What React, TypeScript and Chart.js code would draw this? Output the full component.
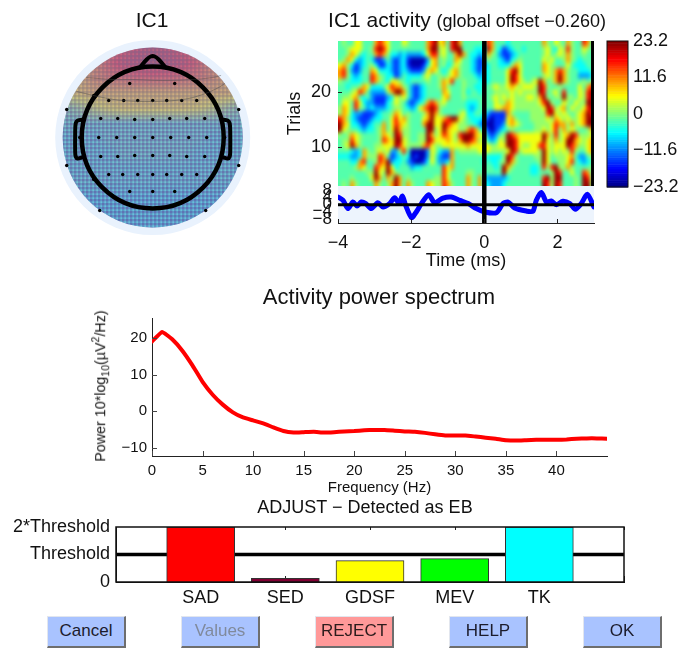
import React, { useEffect, useRef } from "react";
import { Chart, registerables } from "chart.js";
Chart.register(...registerables);

const FONT = "'Liberation Sans', Arial, sans-serif";
const PAGE_W = 683;
const PAGE_H = 648;

// ---- Heat map: trials (top row = trial 29) x time, one letter per cell
const heatLevels: Record<string, number> = { a: -21, b: -15, c: -10, d: -5.5, e: -2, f: 1, g: 5, h: 10, i: 16, j: 22 };
const heatRows = [
  "efeeggee ehihgeee gfeeeehi jgheijhe eeeeeihe eedeeeee eeehfegf ehfeeihe",
  "eefgggee fijigeee eeeeeehj jfgeijje eedddjhe dbcdeede eeefgedg fifeegfe",
  "eefhgede ehihfddc dccccdgi ifgeehjh eddcdhfe cbbcdeee eeefgefg fhfeefee",
  "efhgdcde dbbcecbc dbaaaacg hefeehge edcbcfee dcbdefee eeegfgee fhfedeee",
  "ghfdbcde fdbbdcbc dbaaabdg hefdegfe edcbcdee dddfhgee eeehgfee egedddee",
  "hifcbcee hgdddcbc dcbbbcgh gedeghfe edcbddee eegijgee eeehgfhi hfeeddde",
  "hifdcdee ihfeddbc eddddfge efefghfe eedcddee eegjigee eeefgfhj hfeecccd",
  "feedddee ihfedggf edeeeefe efhgieef eeedddee eegjigfe fgjhefhj hfeeefef",
  "eedeefhg dddegihh fecbcdee efhfeeef eeddeefg ffghgfgg gfjifeef eeeegehi",
  "eeefgihe ccccfhjj hecbcdee eehgeeef deedeeef fffgfgff ffjiefge ieeegfij",
  "effghede cbbbcdgf gecbcdee eegheeef eeeeeefg fgfgfffg gfhjfeff jffegfij",
  "eggeigdc cbbbdegf ecbcdehi hfgeeeee dddeeeeg ffhgffff ffgijfee gfegffjj",
  "fhgeifec dcccdeff edcdghij ifeeeeee dcdeeeeg ghhgffff fffgjifg hegffgij",
  "fhgdccbb bcdeefhg efeeefhj hfeeeefg ddeedcbb bbhfeeee ffffijgf gfefghji",
  "ihfdcbbb cddeegig hfeeeghj gghijjgf edddcbab bbghfeee ffffgfhg fgffghjj",
  "jhgddcbc deehegih gfeeehjj ggjihgff eedcbaab bcghgfee effffgih hfhfghjj",
  "jgfeedcd defhegjh ffeeeejj fgjhggff hihedbab cdefeeee effgfgif hfgfeefh",
  "fefhgfee eefhgfji ffeeffjh fgihgfij jjhgfcbc efjihggg gggjhfif ghjifffg",
  "effigfee eefihgjj gfeeffji ggghgfhj jihfgdcd gfjjiggg gggjgfhf gjjhgfgh",
  "efgjhfee effgggji gffffhig ffgggggg hgggggff ggjjigff ggiigfgg gjihffgh",
  "eeedcdhf efgfgccf ieaaaacg fdccheff fffgggff ffgjifgg ggfjgfgf gfifeegh",
  "dddccdhf ffihebcd edabaacg ecbbheee eeeeeddd dfjifeee effjgeff fgheccef",
  "eeeddhie efihjcdd ecbaabdg eccdheee eeeededd efjhfeee eefjgeef fgiedcde",
  "eeeefhge eihgjgde eecddeee eeigheee eeeeeeed ejhfeeee ddeifijf fhfeeeef",
  "eeeeeeef fjgfjhfe eeeeeeee eeigeeee ffeeeeee ejfeeeee ddeeefji eegeeihe",
  "eeefeeee gjhehfjh efeeeeee ffigeeee hfehdccc ccdeeeee eeeijfjj eeefejif",
  "efehfeee ehfefhjh ehfeeehg ffihfeee hfehddcc cdeeeeee eeejifji eeefejjf",
];
const heatTimeRange = [-4, 3];
const heatTrialRange = [2.8, 29.4];
const heatTicks = [10, 20];
const heatMarkers = [0, 2.96];
const colorbarTicks = [-23.2, -11.6, 0, 11.6, 23.2];

// ---- Mean activity under the image
const erpTimes = [-4, -3.86, -3.73, -3.59, -3.48, -3.36, -3.24, -3.09, -2.91, -2.77, -2.59, -2.45, -2.33, -2.24, -2.15, -1.99, -1.86, -1.72, -1.52, -1.36, -1.13, -0.9, -0.67, -0.44, -0.22, 0.01, 0.33, 0.51, 0.65, 0.83, 1.15, 1.33, 1.42, 1.56, 1.7, 1.83, 1.97, 2.15, 2.34, 2.49, 2.65, 2.82, 3];
const erpValues = [4.3, 2.4, -2.2, 1.5, -0.7, 1.5, 0.6, -2.2, 1.1, -1.3, 0.6, 3.9, 0.6, 4.9, -0.4, -7.3, -4.1, 0.6, 5.6, 1.1, 3.7, 4.3, 2.4, 0.6, -2.2, -4.1, -4.5, 0.6, 1.5, -1.9, -3.6, -3.7, 2.4, 6.9, 1.5, 2.1, 0, 1.9, 0.6, -2.6, 0.6, 5.8, -1.3];
const erpTicks = [-8, -4, 0, 4, 8];
const timeTicks = [-4, -2, 0, 2];

// ---- Power spectrum
const freqs = [0, 1, 2, 3, 4, 5, 6, 7, 8, 9, 10, 11, 12, 13, 14, 15, 16, 17, 18, 19, 20, 21, 22, 23, 24, 25, 26, 27, 28, 29, 30, 31, 32, 33, 34, 35, 36, 37, 38, 39, 40, 41, 42, 43, 44, 45];
const power = [19, 21.6, 19.6, 16.5, 12.5, 8, 4.5, 1.8, -0.3, -1.7, -2.5, -3.3, -4.4, -5.4, -5.8, -5.7, -5.6, -5.8, -5.7, -5.5, -5.4, -5.2, -5.1, -5.1, -5.3, -5.5, -5.6, -5.9, -6.3, -6.6, -6.6, -6.6, -6.9, -7.2, -7.5, -7.9, -8, -7.9, -7.8, -7.8, -7.8, -7.7, -7.5, -7.4, -7.4, -7.5];
const freqTicks = [0, 5, 10, 15, 20, 25, 30, 35, 40];
const powerTicks = [-10, 0, 10, 20];

// ---- ADJUST feature bars
const featureNames = ["", "SAD", "SED", "GDSF", "MEV", "TK", ""];
const featureValues = [null, 2, 0.13, 0.78, 0.85, 2, null];
const featureColors = ["#000", "#ff0000", "#800033", "#ffff00", "#00ff00", "#00ffff", "#000"];
const thresholdLine = [1, 1, 1, 1, 1, 1, 1];
const thresholdTicks: Record<number, string> = { 0: "0", 1: "Threshold", 2: "2*Threshold" };

// ---- Scalp map (units: head-centred, up is front)
const electrodesX = [-23, 22, -44, -29, -15, 0, 14, 29, 44, -86, 86, -52, -35, -18, 0, 17, 34, 52, -54, -36, -18, 0, 18, 36, 54, -52, -35, -18, 0, 17, 34, 52, -86, 86, -44, -30, -15, 0, 14, 29, 44, -23, 0, 22, -53, 53, -73, 72, -68, 67, -59, 57, -59];
const electrodesY = [54, 54, 37, 37, 37, 37, 37, 37, 37, 28, 28, 19, 19, 18, 18, 19, 19, 19, 0, 0, 0, 0, 0, 0, 0, -19, -19, -18, -18, -18, -19, -19, -28, -28, -37, -37, -37, -37, -37, -37, -37, -54, -54, -54, -73, -73, 0, 0, 22, 22, -42, -42, 42];
const noseX = [-13, -6, -2, 2, 6, 13];
const noseY = [70, 78, 81, 81, 78, 70];
const earLeftX = [-69, -75, -77, -77.5, -77.5, -77, -75, -71];
const earLeftY = [18, 17, 14, 5, -14, -19, -21, -20];
const earRightX = [69, 75, 77, 77.5, 77.5, 77, 75, 71];
const contourAX = [-76, -50, -30, 0, 30, 50, 66, 72];
const contourAY = [46, 40, 37, 36, 38, 43, 50, 54];
const contourBX = [-66, -40, -20, 10, 40, 60, 68];
const contourBY = [60, 58, 58, 57, 58, 60, 62];
const HEAD_RADIUS = 71;
const CAP_RADIUS = 90;
const RING_RADIUS = 97.5;
// rows run from +90 (front) to -90 in steps of 15; columns from -90 to +90
const topoField = [
  [11, 11, 12, 14, 17, 19, 20, 19, 17, 14, 12, 11, 11],
  [9, 9, 12, 16, 19, 20, 21, 20, 19, 16, 12, 9, 9],
  [7, 8, 12, 14, 15, 16, 16, 16, 15, 14, 12, 9, 7],
  [6, 8, 9, 9, 9, 9, 9, 9, 9, 9, 9, 9, 6],
  [-1, 1, 4, 6, 7, 7, 7, 7, 7, 6, 4, 1, -1],
  [-3, -3, -3, -3, -3, -3, -3, -3, -3, -3, -3, -3, -3],
  [-4, -4, -4, -3, -3, -3, -3, -3, -3, -3, -4, -4, -4],
  [-4, -4, -4, -4, -3, -3, -3, -3, -3, -4, -4, -4, -4],
  [-4, -4, -4, -4, -4, -4, -4, -4, -4, -4, -4, -4, -4],
  [-4, -4, -4, -4, -4, -4, -4, -4, -4, -4, -4, -4, -4],
  [-5, -5, -5, -5, -5, -5, -5, -5, -5, -5, -5, -5, -5],
  [-5, -5, -5, -5, -5, -5, -5, -5, -5, -5, -5, -5, -5],
  [-5, -5, -5, -5, -5, -5, -5, -5, -5, -5, -5, -5, -5],
];
const buttons = [
  { label: "Cancel", left: 47, width: 79, bg: "#a9c3ff", color: "#1c1c2c" },
  { label: "Values", left: 181, width: 79, bg: "#a9c3ff", color: "#808a9c" },
  { label: "REJECT", left: 315, width: 79, bg: "#ff9999", color: "#2c1c1c" },
  { label: "HELP", left: 449, width: 79, bg: "#a9c3ff", color: "#1c1c2c" },
  { label: "OK", left: 583, width: 79, bg: "#a9c3ff", color: "#1c1c2c" },
];

const clamp01 = (v: number) => Math.max(0, Math.min(1, v));
function jet(t: number): [number, number, number] {
  return [
    Math.round(255 * clamp01(1.5 - Math.abs(4 * t - 3))),
    Math.round(255 * clamp01(1.5 - Math.abs(4 * t - 2))),
    Math.round(255 * clamp01(1.5 - Math.abs(4 * t - 1))),
  ];
}
const jetValue = (v: number) => jet((v + 23.2) / 46.4);
const minusFix = (v: any) => String(v).replace("-", "\u2212");

function box(x0: number, y0: number, x1: number, y1: number, yw = 0, xh = 0, rw = 0) {
  return { padding: { left: x0 - yw, right: PAGE_W - x1 - rw, top: y0, bottom: PAGE_H - y1 - xh } };
}
const fixW = (w: number) => (s: any) => { s.width = w; };
const fixH = (h: number) => (s: any) => { s.height = h; };
const explicit = (vals: number[]) => (s: any) => { s.ticks = vals.map((value) => ({ value })); };

// Panel decorations, all placed through the chart's scales
const panelPlugin = {
  id: "panel",
  beforeDatasetsDraw(chart: any, _a: any, o: any) {
    const { ctx, chartArea: c, scales } = chart;
    if (o.bg) { ctx.save(); ctx.fillStyle = o.bg; ctx.fillRect(c.left, c.top, c.width, c.height); ctx.restore(); }
    if (o.paint) o.paint(chart);
    if (o.underTicks) {
      ctx.save();
      ctx.strokeStyle = "#222";
      for (const t of scales.x.ticks) {
        const p = Math.round(scales.x.getPixelForValue(t.value)) + 0.5;
        ctx.beginPath(); ctx.moveTo(p, c.top); ctx.lineTo(p, c.top + 3); ctx.moveTo(p, c.bottom); ctx.lineTo(p, c.bottom - 6); ctx.stroke();
      }
      ctx.restore();
    }
  },
  afterDatasetsDraw(chart: any, _a: any, o: any) {
    const { ctx, chartArea: c, scales } = chart;
    ctx.save();
    ctx.strokeStyle = o.tickColor || "#222";
    ctx.lineWidth = 1;
    const len = o.tickLen || 4;
    if (o.xTicks) for (const t of scales.x.ticks) {
      const p = Math.round(scales.x.getPixelForValue(t.value)) + 0.5;
      ctx.beginPath(); ctx.moveTo(p, c.bottom); ctx.lineTo(p, c.bottom - len); ctx.stroke();
    }
    if (o.yTicks) for (const t of scales.y.ticks) {
      const p = Math.round(scales.y.getPixelForValue(t.value)) + 0.5;
      ctx.beginPath(); ctx.moveTo(c.left, p); ctx.lineTo(c.left + len, p); ctx.stroke();
    }
    if (o.frame) { ctx.lineWidth = o.frame; ctx.strokeStyle = "#111"; ctx.strokeRect(c.left, c.top, c.width, c.height); }
    ctx.restore();
  },
};
Chart.register(panelPlugin as any);

function paintHeat(chart: any) {
  const { ctx, scales } = chart;
  const rows = heatRows.map((r) => r.split(" ").join(""));
  const w = rows[0].length, h = rows.length;
  const off = document.createElement("canvas");
  off.width = w; off.height = h;
  const oc = off.getContext("2d")!;
  const img = oc.createImageData(w, h);
  rows.forEach((row, j) => {
    for (let i = 0; i < w; i++) {
      const [r, g, b] = jetValue(heatLevels[row[i]]);
      const k = (j * w + i) * 4;
      img.data[k] = r; img.data[k + 1] = g; img.data[k + 2] = b; img.data[k + 3] = 255;
    }
  });
  oc.putImageData(img, 0, 0);
  const x0 = scales.x.getPixelForValue(heatTimeRange[0]);
  const x1 = scales.x.getPixelForValue(heatTimeRange[1]);
  const y0 = scales.y.getPixelForValue(heatTrialRange[1]);
  const y1 = scales.y.getPixelForValue(heatTrialRange[0]);
  ctx.save();
  ctx.beginPath(); ctx.rect(x0, y0, x1 - x0, y1 - y0); ctx.clip();
  ctx.imageSmoothingEnabled = true;
  ctx.imageSmoothingQuality = "high";
  ctx.drawImage(off, 0, 0, w, h, x0, y0, x1 - x0, y1 - y0);
  ctx.filter = "blur(1.6px)";
  ctx.drawImage(off, 0, 0, w, h, x0, y0, x1 - x0, y1 - y0);
  ctx.filter = "none";
  ctx.restore();
}

function paintColorbar(chart: any) {
  const { ctx, chartArea: c, scales } = chart;
  ctx.save();
  for (let v = -23.2; v < 23.2; v += 0.725) {
    const [r, g, b] = jetValue(v + 0.36);
    const a = scales.y.getPixelForValue(v), d = scales.y.getPixelForValue(v + 0.725);
    ctx.fillStyle = `rgb(${r},${g},${b})`;
    ctx.fillRect(c.left, d, c.width, a - d + 0.5);
  }
  ctx.restore();
}

function fieldAt(x: number, y: number) {
  const fr = clamp01((90 - y) / 180) * 12, fc = clamp01((x + 90) / 180) * 12;
  const r0 = Math.min(11, Math.floor(fr)), c0 = Math.min(11, Math.floor(fc));
  const tr = fr - r0, tc = fc - c0;
  const a = topoField[r0][c0] * (1 - tc) + topoField[r0][c0 + 1] * tc;
  const b = topoField[r0 + 1][c0] * (1 - tc) + topoField[r0 + 1][c0 + 1] * tc;
  return a * (1 - tr) + b * tr;
}

function paintTopo(chart: any) {
  const { ctx, scales } = chart;
  const cx = scales.x.getPixelForValue(0), cy = scales.y.getPixelForValue(0);
  const unit = Math.abs(scales.x.getPixelForValue(1) - cx);
  ctx.save();
  ctx.fillStyle = "#e9f2fd";
  ctx.beginPath(); ctx.arc(cx, cy, RING_RADIUS * unit, 0, Math.PI * 2); ctx.fill();
  ctx.beginPath(); ctx.arc(cx, cy, CAP_RADIUS * unit, 0, Math.PI * 2); ctx.clip();
  const shade = [50, 48, 150];
  for (let px = -92; px <= 92; px += 1) {
    for (let py = -92; py <= 92; py += 1) {
      const v = fieldAt(px, py);
      const [r, g, b] = jetValue(v);
      const ix = ((px % 4) + 4) % 4 === 0, iy = ((py % 4) + 4) % 4 === 0;
      const gf = 0.04 + 0.3 * (r / 255);
      let col: number[];
      if (ix && iy) col = [r * 0.7 + 70, g * 0.7 + 70, b * 0.7 + 70];
      else if (ix || iy) col = [r * 0.6 + shade[0] * 0.4, g * 0.5 + shade[1] * 0.5, b * 0.5 + shade[2] * 0.5];
      else col = [r * 0.38 + shade[0] * 0.62, g * gf + shade[1] * (1 - gf), b * 0.05 + shade[2] * (0.95 - 0.5 * r / 255)];
      ctx.fillStyle = `rgb(${Math.round(col[0])},${Math.round(col[1])},${Math.round(col[2])})`;
      ctx.fillRect(cx + px * unit, cy - py * unit, unit, unit);
    }
  }
  ctx.restore();
  ctx.save();
  ctx.strokeStyle = "#000";
  ctx.lineWidth = 4.5;
  ctx.beginPath(); ctx.arc(cx, cy, HEAD_RADIUS * unit, 0, Math.PI * 2); ctx.stroke();
  ctx.restore();
}

const zip = (xs: number[], ys: number[]) => xs.map((x, i) => ({ x, y: ys[i] }));
const outline = (data: any[], color = "#000", width = 4, tension = 0.3) => ({
  type: "scatter", data, showLine: true, pointRadius: 0, borderColor: color, borderWidth: width, tension, fill: false, borderJoinStyle: "round", borderCapStyle: "round",
});

const noLegend = { legend: { display: false }, tooltip: { enabled: false } };

function buildConfigs(): any[] {
  const hiddenLinear = (min: number, max: number) => ({ type: "linear", min, max, display: false });
  return [
    // scalp map
    {
      type: "scatter",
      data: {
        datasets: [
          outline(zip(contourAX, contourAY), "rgba(70,70,70,0.45)", 1, 0.4),
          outline(zip(contourBX, contourBY), "rgba(70,70,70,0.4)", 1, 0.4),
          outline(zip(noseX, noseY)),
          outline(zip(earLeftX, earLeftY)),
          outline(zip(earRightX, earLeftY)),
          { type: "scatter", data: zip(electrodesX, electrodesY), pointRadius: 1.7, backgroundColor: "#000", borderWidth: 0 },
        ],
      },
      options: {
        layout: box(52.7, 37.5, 252.7, 237.5),
        scales: { x: hiddenLinear(-100, 100), y: hiddenLinear(-100, 100) },
        plugins: { ...noLegend, panel: { paint: paintTopo } },
      },
    },
    // heat map
    {
      type: "scatter",
      data: {
        datasets: heatMarkers.map((m) => outline([{ x: m, y: heatTrialRange[0] }, { x: m, y: heatTrialRange[1] }], "#000", m === 0 ? 4.5 : 3, 0)),
      },
      options: {
        layout: box(338, 41, 594, 186, 54, 0),
        scales: {
          x: { ...hiddenLinear(heatTimeRange[0], heatTimeRange[1]) },
          y: {
            type: "linear", min: heatTrialRange[0], max: heatTrialRange[1], afterFit: fixW(54), afterBuildTicks: explicit(heatTicks),
            grid: { display: false, drawTicks: false }, border: { color: "#222" },
            ticks: { padding: 7, color: "#111", font: { family: FONT, size: 18 }, autoSkip: false, maxRotation: 0 },
            title: { display: true, text: "Trials", color: "#111", padding: 0, font: { family: FONT, size: 18 } },
          },
        },
        plugins: { ...noLegend, panel: { paint: paintHeat, yTicks: true } },
      },
    },
    // activity trace
    {
      type: "scatter",
      data: {
        datasets: [
          outline([{ x: heatTimeRange[0], y: 0 }, { x: heatTimeRange[1], y: 0 }], "#000", 3, 0),
          outline([{ x: 0, y: -10.3 }, { x: 0, y: 10.5 }], "#000", 4.5, 0),
          outline(zip(erpTimes, erpValues), "#0000ff", 5, 0.25),
        ],
      },
      options: {
        layout: box(338, 186, 594, 223, 54, 49),
        scales: {
          x: {
            type: "linear", min: -4, max: 3, afterFit: fixH(49), afterBuildTicks: explicit(timeTicks),
            grid: { display: false, drawTicks: false }, border: { color: "#222" },
            ticks: { padding: 9, color: "#111", font: { family: FONT, size: 18 }, autoSkip: false, maxRotation: 0, callback: minusFix },
            title: { display: true, text: "Time (ms)", color: "#111", padding: 0, font: { family: FONT, size: 18 } },
          },
          y: {
            type: "linear", min: -10.3, max: 10.5, afterFit: fixW(54), afterBuildTicks: explicit(erpTicks),
            grid: { display: false, drawTicks: false }, border: { color: "#222" },
            ticks: { padding: 6, color: "#111", font: { family: FONT, size: 17 }, autoSkip: false, maxRotation: 0, callback: minusFix },
          },
        },
        plugins: { ...noLegend, panel: { bg: "#edf4fd", xTicks: true } },
      },
    },
    // colour bar
    {
      type: "bar",
      data: { labels: [], datasets: [] },
      options: {
        layout: box(607, 41, 628, 187, 0, 0, 55),
        scales: {
          x: { display: false },
          y: {
            type: "linear", position: "right", min: -23.2, max: 23.2, afterFit: fixW(55), afterBuildTicks: explicit(colorbarTicks),
            grid: { display: false, drawTicks: false }, border: { display: false },
            ticks: { padding: 5, color: "#111", font: { family: FONT, size: 18 }, autoSkip: false, maxRotation: 0, callback: minusFix },
          },
        },
        plugins: { ...noLegend, panel: { paint: paintColorbar, frame: 1 } },
      },
    },
    // spectrum
    {
      type: "scatter",
      data: { datasets: [outline(zip(freqs, power), "#ff0000", 4, 0.1)] },
      options: {
        layout: box(152, 318, 607, 456, 40, 41),
        scales: {
          x: {
            type: "linear", min: 0, max: 45, afterFit: fixH(41), afterBuildTicks: explicit(freqTicks),
            grid: { display: false, drawTicks: false }, border: { color: "#222" },
            ticks: { padding: 6, color: "#111", font: { family: FONT, size: 15 }, autoSkip: false, maxRotation: 0 },
            title: { display: true, text: "Frequency (Hz)", color: "#111", padding: 0, font: { family: FONT, size: 15 } },
          },
          y: {
            type: "linear", min: -12.2, max: 25.4, afterFit: fixW(40), afterBuildTicks: explicit(powerTicks),
            grid: { display: false, drawTicks: false }, border: { color: "#222" },
            ticks: { padding: 5, color: "#111", font: { family: FONT, size: 15 }, autoSkip: false, maxRotation: 0, callback: minusFix },
          },
        },
        plugins: { ...noLegend, panel: { xTicks: true, yTicks: true, tickLen: 5, tickColor: "#444" } },
      },
    },
    // ADJUST bars
    {
      type: "bar",
      data: {
        labels: featureNames,
        datasets: [
          { type: "bar", data: featureValues, backgroundColor: featureColors, borderColor: "#333", borderWidth: 1, barThickness: 68, order: 1 },
          { type: "line", data: thresholdLine, borderColor: "#000", borderWidth: 3.5, pointRadius: 0, order: 2 },
        ],
      },
      options: {
        layout: box(116, 527, 624, 582, 116, 40),
        scales: {
          x: {
            type: "category", offset: false, afterFit: fixH(40),
            grid: { display: false, drawTicks: false, offset: false }, border: { color: "#111" },
            ticks: { padding: 5, color: "#111", font: { family: FONT, size: 18 }, autoSkip: false, maxRotation: 0 },
          },
          y: {
            type: "linear", min: 0, max: 2, afterFit: fixW(116), afterBuildTicks: explicit([0, 1, 2]),
            grid: { display: false, drawTicks: false }, border: { color: "#111" },
            ticks: { padding: 6, color: "#111", font: { family: FONT, size: 18 }, autoSkip: false, maxRotation: 0, callback: (v: any) => thresholdTicks[v] },
          },
        },
        plugins: { ...noLegend, panel: { frame: 1.5, underTicks: true } },
      },
    },
  ];
}

const titleStyle = (cx: number, cy: number, size = 18): React.CSSProperties => ({
  position: "absolute", left: cx, top: cy, transform: "translate(-50%,-50%)", font: `${size}px ${FONT}`, color: "#111", whiteSpace: "nowrap",
});

export default function App() {
  const host = useRef<HTMLDivElement>(null);
  useEffect(() => {
    const charts: Chart[] = [];
    const root = host.current!;
    buildConfigs().forEach((cfg) => {
      const cv = document.createElement("canvas");
      cv.width = PAGE_W; cv.height = PAGE_H;
      cv.style.cssText = `position:absolute;left:0;top:0;width:${PAGE_W}px;height:${PAGE_H}px;`;
      root.appendChild(cv);
      cfg.options.animation = false;
      cfg.options.responsive = false;
      cfg.options.maintainAspectRatio = false;
      charts.push(new Chart(cv, cfg));
    });
    return () => {
      charts.forEach((c) => { const cv = c.canvas; c.destroy(); cv.remove(); });
    };
  }, []);

  return (
    <div style={{ position: "fixed", left: 0, top: 0, width: PAGE_W, height: PAGE_H, background: "#fff", overflow: "hidden", filter: "blur(0.45px)" }}>
      <div ref={host} style={{ position: "absolute", inset: 0 }} />
      <div style={titleStyle(152, 20, 21)}>IC1</div>
      <div style={titleStyle(467, 20, 21)}>
        IC1 activity <span style={{ fontSize: 18 }}>(global offset {"\u2212"}0.260)</span>
      </div>
      <div style={titleStyle(379, 297, 22)}>Activity power spectrum</div>
      <div style={titleStyle(365, 507)}>ADJUST {"\u2212"} Detected as EB</div>
      <div style={{ ...titleStyle(100, 386, 14.3), transform: "translate(-50%,-50%) rotate(-90deg)" }}>
        Power 10*log<sub style={{ fontSize: 10.5 }}>10</sub>({"\u00b5"}V<sup style={{ fontSize: 10.5 }}>2</sup>/Hz)
      </div>
      {buttons.map((b) => (
        <div key={b.label} style={{
          position: "absolute", left: b.left, top: 616, width: b.width, height: 32, boxSizing: "border-box", background: b.bg, color: b.color,
          borderStyle: "solid", borderWidth: "1px 2px 2px 1px", borderColor: "#e2e6ee #6e6e6e #6e6e6e #e2e6ee",
          font: `17px ${FONT}`, lineHeight: "28px", textAlign: "center",
        }}>{b.label}</div>
      ))}
    </div>
  );
}
